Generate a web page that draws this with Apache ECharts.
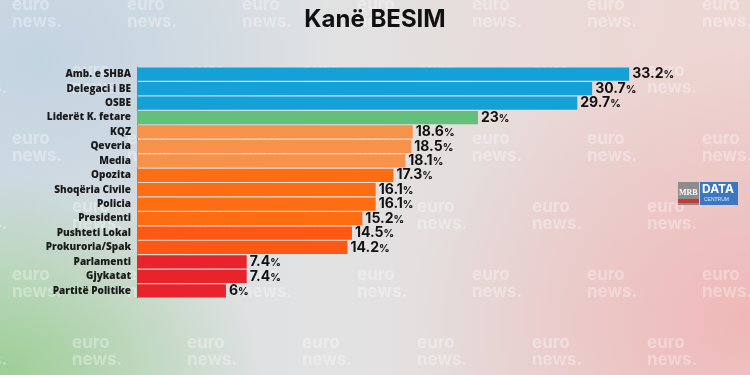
<!DOCTYPE html>
<html>
<head>
<meta charset="utf-8">
<script src="https://cdn.jsdelivr.net/npm/echarts@6/dist/echarts.min.js"></script>
<style>
html,body{margin:0;padding:0;}
#chart{width:750px;height:375px;
background:
 radial-gradient(ellipse 260px 200px at 0px 375px, rgba(150,205,140,0.9), rgba(150,205,140,0) 100%),
 radial-gradient(ellipse 340px 280px at 750px 320px, rgba(240,182,182,0.95), rgba(240,182,182,0) 100%),
 radial-gradient(ellipse 300px 200px at 700px 40px, rgba(238,215,212,0.9), rgba(238,215,212,0) 100%),
 radial-gradient(ellipse 300px 220px at 40px 60px, rgba(195,212,225,1), rgba(195,212,225,0) 100%),
 linear-gradient(90deg,#d6dde2 0%,#e2e2e2 45%,#e8d6d4 100%);
}
</style>
</head>
<body>
<div id="chart"></div>
<script>
const categories = ["Amb. e SHBA","Delegaci i BE","OSBE","Liderët K. fetare","KQZ","Qeveria","Media","Opozita","Shoqëria Civile","Policia","Presidenti","Pushteti Lokal","Prokuroria/Spak","Parlamenti","Gjykatat","Partitë Politike"];
const values = [33.2,30.7,29.7,23,18.6,18.5,18.1,17.3,16.1,16.1,15.2,14.5,14.2,7.4,7.4,6];
const colors = ["#14a1d7","#14a1d7","#14a1d7","#63c07a","#f7924b","#f7924b","#f7924b","#ff6d12","#ff6d12","#ff6d12","#ff6d12","#ff5714","#ff5714","#e9232b","#e9232b","#e9232b"];

const chart = echarts.init(document.getElementById('chart'));

// decorative watermark
const wm = [];
const rows = [-4, 62, 130, 198, 266, 334];
rows.forEach((y, r) => {
  for (let i = 0; i < 8; i++) {
    const x = 12 + i * 115 + (r % 2 ? -55 : 0);
    wm.push({type:'text', silent:true, z:0, left:x, top:y,
      style:{text:'euro\nnews.', fill:'rgba(255,255,255,0.33)', font:'bold 17px "Inter", sans-serif', lineHeight:17}});
  }
});

chart.setOption({
  backgroundColor:'transparent',
  title:{text:'Kanë BESIM', left:'center', top:3,
    textStyle:{fontFamily:'Inter, sans-serif', fontWeight:'bold', fontSize:24, color:'#111'}},
  grid:{left:137, right:20, top:67, bottom:77},
  xAxis:{type:'value', min:0, max:40, show:false},
  yAxis:{type:'category', data:categories, inverse:true,
    axisLine:{show:true, lineStyle:{color:'#8a8a8a', width:1}},
    axisTick:{show:false},
    axisLabel:{fontFamily:'"Open Sans", sans-serif', fontWeight:800, fontSize:10, color:'#1a1a1a', margin:6}},
  graphic: wm.concat([
    {type:'rect', left:678, top:182, shape:{width:21, height:23}, style:{fill:'#8c8c8c'}, z:5},
    {type:'rect', left:678, top:199, shape:{width:21, height:4}, style:{fill:'#c23a3a'}, z:5},
    {type:'text', left:679, top:189, style:{text:'MRB', fill:'#fff', font:'bold 8px serif'}, z:6},
    {type:'rect', left:700, top:182, shape:{width:38, height:23}, style:{fill:'#3a78c2'}, z:5},
    {type:'text', left:702, top:183, style:{text:'DATA', fill:'#fff', font:'bold 12px Inter, sans-serif'}, z:6},
    {type:'text', left:704, top:197, style:{text:'CENTRUM', fill:'#dde8f5', font:'5px sans-serif'}, z:6}
  ]),
  series:[{
    type:'bar', data:values.map((v,i)=>({value:v, itemStyle:{color:colors[i]}})),
    barCategoryGap:'8%', z:3,
    label:{show:true, position:'right', distance:3,
      formatter: p => '{n|' + p.value + '}{p|%}',
      rich:{n:{fontFamily:'Inter, sans-serif', fontWeight:'bold', fontSize:14, color:'#111'},
            p:{fontFamily:'Inter, sans-serif', fontWeight:'bold', fontSize:10.5, color:'#111', padding:[2,0,0,0]}}}
  }]
});
</script>
</body>
</html>
